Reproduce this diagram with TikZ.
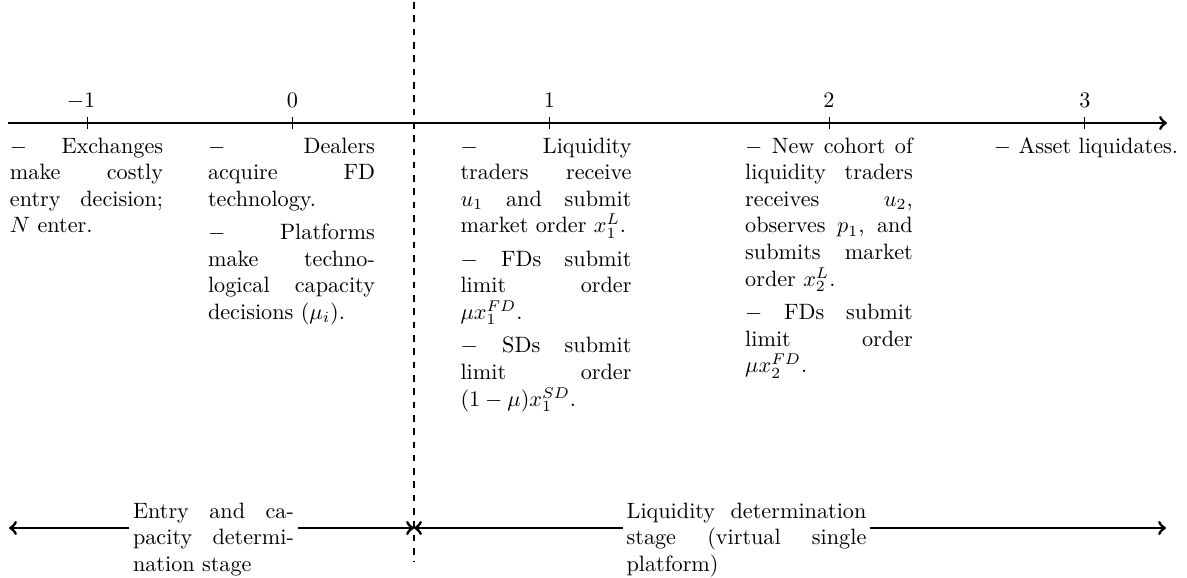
\documentclass[tikz,border=0pt]{standalone}
\begin{document}
\tolerance=10000
\hbadness=10000
\begin{tikzpicture}[x=0.4505pt,y=-0.4505pt,
  axisline/.style={line width=1.3pt,->},
  tickmark/.style={line width=0.4pt},
  ticklabel/.style={anchor=base,inner sep=0pt},
  event/.style={anchor=base,inner sep=0pt,text width=#1,align=justify},
  stage/.style={anchor=base,inner xsep=1.5pt,inner ysep=0pt,text width=#1,align=justify},
  divider/.style={line width=1pt,dashed},
  stagearrow/.style={line width=1.3pt}]
\useasboundingbox (0,0) rectangle (1187,577);
% main time axis
\coordinate (axL) at (8,123);
\coordinate (axR) at (1167,123);
\draw[axisline] (axL) -- (axR);
\foreach \n/\x in {m1/87,z/292,o/549,t/829,h/1084.5}{
  \coordinate (tt\n) at (\x,117);
  \coordinate (tb\n) at (\x,129);
  \draw[tickmark] (tt\n) -- (tb\n);
}
\node[ticklabel] (lm1) at (81,107) {$-1$};
\node[ticklabel] (lz) at (292.5,107) {$0$};
\node[ticklabel] (lo) at (549.5,107) {$1$};
\node[ticklabel] (lt) at (829,107) {$2$};
\node[ticklabel] (lh) at (1085,107) {$3$};
% divider
\coordinate (dtop) at (414,2);
\coordinate (dbot) at (414,562);
\draw[divider] (dtop) -- (dbot);
% events
\node[event=69pt] (em1) at (86.5,153) {$-$ Exchanges\linebreak make costly\linebreak entry decision;\linebreak $N$ enter.};
\node[event=75.2pt] (ez) at (291.5,153) {$-$ Dealers\linebreak acquire FD\linebreak technology.\par\vspace{3pt}$-$ Platforms\linebreak make techno-\linebreak logical capacity\linebreak decisions ($\mu_i$).};
\node[event=77pt] (eo) at (546,153) {$-$ Liquidity\linebreak traders receive\linebreak $u_1$ and submit\linebreak market order $x_1^L$.\par\vspace{3pt}$-$ FDs submit\linebreak limit order\linebreak $\mu x_1^{FD}$.\par\vspace{3pt}$-$ SDs submit\linebreak limit order\linebreak $(1-\mu)x_1^{SD}$.};
\node[event=75.5pt] (et) at (829,153) {$-$ New cohort of\linebreak liquidity traders\linebreak receives $u_2$,\linebreak observes $p_1$, and\linebreak submits market\linebreak order $x_2^L$.\par\vspace{3pt}$-$ FDs submit\linebreak limit order\linebreak $\mu x_2^{FD}$.};
\node[ticklabel] (eh) at (1086,153) {$-$ Asset liquidates.};
% stages
\coordinate (bl) at (9,528);
\coordinate (bm) at (414,528);
\coordinate (br) at (1166,528);
\node[stage=72.5pt] (sA) at (213.5,518) {Entry and ca-\linebreak pacity determi-\linebreak nation stage};
\node[stage=108pt] (sB) at (746.5,518) {Liquidity determination\linebreak stage (virtual single\linebreak platform)};
\draw[stagearrow,<-] (bl) -- (bl -| sA.west);
\draw[stagearrow,->] (sA.east |- bm) -- (bm);
\draw[stagearrow,<-] (bm) -- (bm -| sB.west);
\draw[stagearrow,->] (sB.east |- br) -- (br);
\end{tikzpicture}
\end{document}
